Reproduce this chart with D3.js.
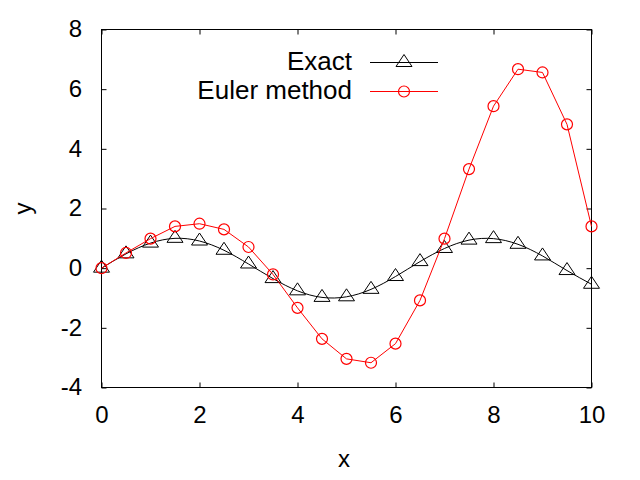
<!DOCTYPE html>
<html><head><meta charset="utf-8">
<script src="https://cdn.jsdelivr.net/npm/d3@7"></script>
<style>body{margin:0;background:#fff}svg{display:block}text{font-family:"Liberation Sans",Arial,sans-serif;fill:#000}</style>
</head><body><svg id="c" width="640" height="480"></svg>
<script>
const xs = [0,0.5,1,1.5,2,2.5,3,3.5,4,4.5,5,5.5,6,6.5,7,7.5,8,8.5,9,9.5,10];
const exact = [0,0.48,0.84,1.0,0.91,0.6,0.14,-0.35,-0.76,-0.98,-0.96,-0.71,-0.28,0.22,0.66,0.94,0.99,0.8,0.41,-0.08,-0.54];
const euler = [0,0.51,0.99,1.4,1.49,1.3,0.71,-0.21,-1.33,-2.37,-3.04,-3.17,-2.53,-1.08,0.99,3.32,5.43,6.67,6.56,4.82,1.4];
const xTicks = [0,2,4,6,8,10];
const yTicks = [-4,-2,0,2,4,6,8];
const seriesNames = ["Exact","Euler method"];

const L=101.5,R=591.5,T=29.5,B=387.5;
const svg=d3.select("#c");
const x=d3.scaleLinear().domain([0,10]).range([L,R]);
const y=d3.scaleLinear().domain([-4,8]).range([B,T]);
const tl=5;
const fmt = d => String(d);

const gx=svg.append("g").attr("transform",`translate(0,${B})`)
  .call(d3.axisBottom(x).tickValues(xTicks).tickSize(-tl).tickPadding(0).tickFormat(fmt));
gx.selectAll("text").attr("font-size",24).attr("y",35).attr("dy",0);
svg.append("g").attr("transform",`translate(0,${T})`)
  .call(d3.axisTop(x).tickValues(xTicks).tickSize(-tl).tickFormat(""));
const gy=svg.append("g").attr("transform",`translate(${L},0)`)
  .call(d3.axisLeft(y).tickValues(yTicks).tickSize(-tl).tickFormat(fmt));
gy.selectAll("text").attr("font-size",24).attr("x",-19.5).attr("dy","0.3em");
svg.append("g").attr("transform",`translate(${R},0)`)
  .call(d3.axisRight(y).tickValues(yTicks).tickSize(-tl).tickFormat(""));
svg.selectAll(".domain").remove();
svg.selectAll(".tick line").attr("stroke","#000");
svg.append("rect").attr("x",L).attr("y",T).attr("width",R-L).attr("height",B-T)
  .attr("fill","none").attr("stroke","#000").attr("stroke-width",1);

svg.append("text").attr("x",344).attr("y",467).attr("text-anchor","middle").attr("font-size",24).text("x");
svg.append("text").attr("transform",`translate(31,${(T+B)/2}) rotate(-90)`).attr("text-anchor","middle").attr("font-size",24).text("y");

const tri = (cx,cy)=>`M${cx},${cy-8}L${cx-8},${cy+4}L${cx+8},${cy+4}Z`;

const ex = xs.map((v,i)=>[v,exact[i]]);
svg.append("path").datum(ex).attr("fill","none").attr("stroke","#000").attr("stroke-width",1)
  .attr("d",d3.line().x(d=>x(d[0])).y(d=>y(d[1])).curve(d3.curveNatural));
svg.append("g").selectAll("path").data(ex).join("path")
  .attr("d",d=>tri(x(d[0]),y(d[1]))).attr("fill","none").attr("stroke","#000").attr("stroke-width",1);

const eu = xs.map((v,i)=>[v,euler[i]]);
svg.append("path").datum(eu).attr("fill","none").attr("stroke","#f00").attr("stroke-width",1)
  .attr("d",d3.line().x(d=>x(d[0])).y(d=>y(d[1])));
svg.append("g").selectAll("circle").data(eu).join("circle")
  .attr("cx",d=>x(d[0])).attr("cy",d=>y(d[1])).attr("r",5.5)
  .attr("fill","none").attr("stroke","#f00").attr("stroke-width",1.2);

const lg=svg.append("g");
const rows=[{n:seriesNames[0],c:"#000",m:"tri",y:62.5},{n:seriesNames[1],c:"#f00",m:"circ",y:91.5}];
rows.forEach(r=>{
  lg.append("text").attr("x",352).attr("y",r.y+7).attr("text-anchor","end").attr("font-size",26).text(r.n);
  lg.append("line").attr("x1",370).attr("x2",438).attr("y1",r.y).attr("y2",r.y).attr("stroke",r.c);
  if(r.m==="tri") lg.append("path").attr("d",tri(404,r.y)).attr("fill","none").attr("stroke",r.c);
  else lg.append("circle").attr("cx",404).attr("cy",r.y).attr("r",5.5).attr("fill","none").attr("stroke",r.c).attr("stroke-width",1.2);
});
</script></body></html>
